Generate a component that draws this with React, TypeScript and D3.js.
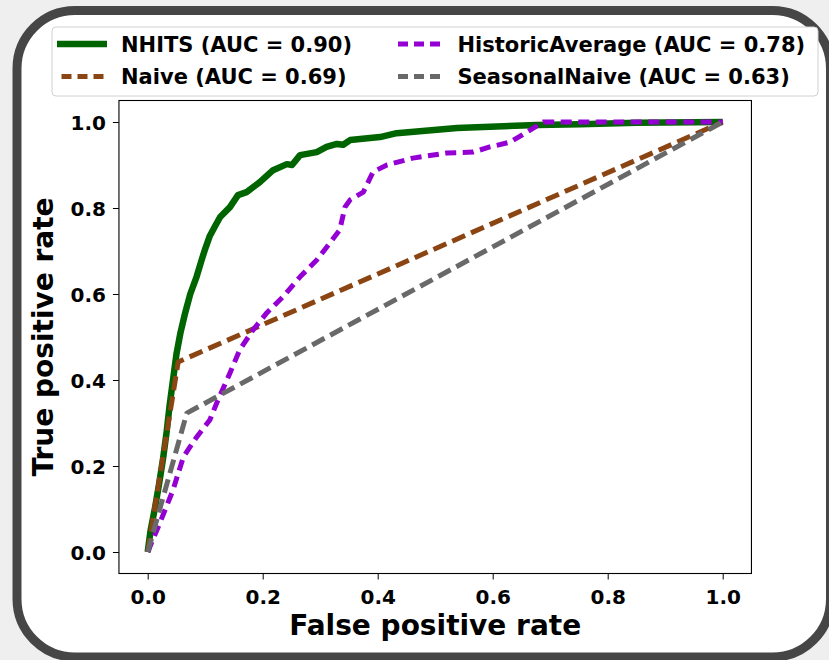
import React, { useRef, useEffect } from 'react'
import * as d3 from 'd3'

// ROC curves for four forecasting models, drawn with D3.
const nhitsCurve: [number, number][] = [
  [0, 0], [0.005, 0.05], [0.013, 0.105], [0.02, 0.16], [0.027, 0.22], [0.033, 0.28],
  [0.038, 0.34], [0.044, 0.4], [0.05, 0.46], [0.057, 0.51], [0.065, 0.555], [0.074, 0.6],
  [0.085, 0.64], [0.094, 0.68], [0.1, 0.705], [0.108, 0.735], [0.118, 0.76],
  [0.126, 0.779], [0.143, 0.802], [0.157, 0.83], [0.172, 0.837],
  [0.195, 0.86], [0.218, 0.888], [0.242, 0.902], [0.251, 0.9], [0.265, 0.923],
  [0.294, 0.93], [0.311, 0.942], [0.329, 0.949], [0.34, 0.947], [0.352, 0.958],
  [0.404, 0.965], [0.433, 0.974], [0.538, 0.986], [0.677, 0.993], [0.752, 0.995],
  [0.85, 0.998], [1, 1],
]
const naiveCurve: [number, number][] = [[0, 0], [0.053, 0.442], [1, 1]]
const historicCurve: [number, number][] = [
  [0, 0], [0.021, 0.067], [0.044, 0.144], [0.062, 0.221], [0.085, 0.267], [0.108, 0.307],
  [0.122, 0.353], [0.143, 0.416], [0.16, 0.47], [0.183, 0.516], [0.207, 0.556],
  [0.235, 0.593], [0.265, 0.64], [0.294, 0.679], [0.317, 0.719], [0.334, 0.749],
  [0.343, 0.802], [0.352, 0.819], [0.375, 0.837], [0.392, 0.884], [0.416, 0.9],
  [0.461, 0.916], [0.52, 0.928], [0.566, 0.93], [0.595, 0.942], [0.63, 0.953],
  [0.665, 0.981], [0.688, 1.0], [1, 1],
]
const seasonalCurve: [number, number][] = [[0, 0], [0.068, 0.323], [1, 1]]

const modelNames = ['NHITS', 'Naive', 'HistoricAverage', 'SeasonalNaive']
const aucValues = ['0.90', '0.69', '0.78', '0.63']
const tickValues = [0, 0.2, 0.4, 0.6, 0.8, 1.0]

const FONT = '"DejaVu Sans", sans-serif'

export default function App() {
  const svgRef = useRef<SVGSVGElement>(null)

  useEffect(() => {
    const svg = d3.select(svgRef.current)
    svg.selectAll('*').remove()

    const width = 829
    const height = 660

    // page background + rounded frame
    svg.append('rect').attr('width', width).attr('height', height).attr('fill', '#efefef')
    svg.append('rect')
      .attr('x', 17).attr('y', 10.5)
      .attr('width', 813.5).attr('height', 646.5)
      .attr('rx', 58).attr('ry', 58)
      .attr('fill', '#ffffff').attr('stroke', '#464646').attr('stroke-width', 9)

    const x = d3.scaleLinear().domain([-0.05, 1.05]).range([118.95, 751.45])
    const y = d3.scaleLinear().domain([-0.05, 1.05]).range([573.5, 100.5])

    const g = svg.append('g')

    // curves
    const series = [
      { data: nhitsCurve, color: '#006400', width: 6.5, dash: null },
      { data: naiveCurve, color: '#8b4513', width: 5, dash: '14,6.5' },
      { data: historicCurve, color: '#9400d3', width: 5, dash: '11,6.5' },
      { data: seasonalCurve, color: '#696969', width: 5, dash: '14,6.5' },
    ]
    const line = d3.line<[number, number]>().x((d) => x(d[0])).y((d) => y(d[1]))
    series.forEach((s) => {
      g.append('path')
        .datum(s.data)
        .attr('fill', 'none')
        .attr('stroke', s.color)
        .attr('stroke-width', s.width)
        .attr('stroke-dasharray', s.dash)
        .attr('stroke-linejoin', 'round')
        .attr('d', line)
    })

    // spines
    g.append('rect')
      .attr('x', x(-0.05)).attr('y', y(1.05))
      .attr('width', x(1.05) - x(-0.05)).attr('height', y(-0.05) - y(1.05))
      .attr('fill', 'none').attr('stroke', '#000').attr('stroke-width', 1.1)

    // axes
    g.append('g')
      .attr('transform', `translate(0, ${y(-0.05)})`)
      .call(d3.axisBottom(x).tickValues(tickValues).tickSize(6).tickPadding(4).tickFormat(d3.format('.1f')))
      .call((a) => a.select('.domain').remove())
      .call((a) => a.selectAll('.tick line').attr('stroke', '#000'))
      .call((a) => a.selectAll('.tick text')
        .attr('fill', '#000').attr('dy', null).attr('y', 30)
        .style('font-family', FONT).style('font-size', '20px').style('font-weight', 'bold'))
    g.append('g')
      .attr('transform', `translate(${x(-0.05)}, 0)`)
      .call(d3.axisLeft(y).tickValues(tickValues).tickSize(6).tickPadding(7).tickFormat(d3.format('.1f')))
      .call((a) => a.select('.domain').remove())
      .call((a) => a.selectAll('.tick line').attr('stroke', '#000'))
      .call((a) => a.selectAll('.tick text')
        .attr('fill', '#000').attr('dy', '0.36em')
        .style('font-family', FONT).style('font-size', '20px').style('font-weight', 'bold'))

    // axis labels
    svg.append('text')
      .attr('x', (x(-0.05) + x(1.05)) / 2).attr('y', 635)
      .attr('text-anchor', 'middle')
      .style('font-family', FONT).style('font-size', '28px').style('font-weight', 'bold')
      .text('False positive rate')
    svg.append('text')
      .attr('transform', `translate(53, ${(y(-0.05) + y(1.05)) / 2}) rotate(-90)`)
      .attr('text-anchor', 'middle')
      .style('font-family', FONT).style('font-size', '28px').style('font-weight', 'bold')
      .text('True positive rate')

    // legend (2 columns, column-major like matplotlib)
    svg.append('rect')
      .attr('x', 52).attr('y', 27).attr('width', 766).attr('height', 69)
      .attr('rx', 4).attr('fill', '#fff').attr('stroke', '#d0d0d0').attr('stroke-width', 1)
    series.forEach((s, i) => {
      const col = Math.floor(i / 2)
      const row = i % 2
      const lx = 57 + col * 336.5
      const ly = 44 + row * 32.5
      svg.append('line')
        .attr('x1', s.dash ? lx + 4.5 : lx).attr('x2', s.dash ? lx + 46.5 : lx + 50)
        .attr('y1', ly).attr('y2', ly)
        .attr('stroke', s.color).attr('stroke-width', s.width)
        .attr('stroke-dasharray', s.dash ? '10,6' : null)
      svg.append('text')
        .attr('x', lx + 64).attr('y', ly + 7.5)
        .style('font-family', FONT).style('font-size', '21px').style('font-weight', 'bold')
        .text(`${modelNames[i]} (AUC = ${aucValues[i]})`)
    })
  }, [])

  return (
    <svg
      ref={svgRef}
      width={829}
      height={660}
      viewBox="0 0 829 660"
      style={{ position: 'absolute', left: 0, top: 0, display: 'block' }}
    />
  )
}
